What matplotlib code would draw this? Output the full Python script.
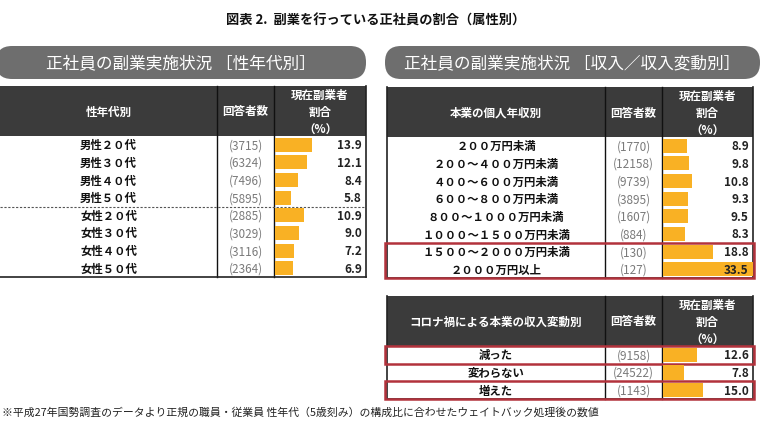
import matplotlib
matplotlib.use("Agg")
import matplotlib.pyplot as plt
from matplotlib.patches import Rectangle, FancyBboxPatch
from matplotlib import transforms

plt.rcParams['font.family'] = ['Noto Sans CJK JP', 'DejaVu Sans']

# ---------------- data ----------------
title = "図表 2.  副業を行っている正社員の割合（属性別）"
banner_left = "正社員の副業実施状況 ［性年代別］"
banner_right = "正社員の副業実施状況 ［収入／収入変動別］"

hdr_count = "回答者数"
hdr_rate = "現在副業者\n割合\n（%）"

age_header = "性年代別"
age_labels = ["男性２０代", "男性３０代", "男性４０代", "男性５０代",
              "女性２０代", "女性３０代", "女性４０代", "女性５０代"]
age_counts = [3715, 6324, 7496, 5895, 2885, 3029, 3116, 2364]
age_rates = [13.9, 12.1, 8.4, 5.8, 10.9, 9.0, 7.2, 6.9]

inc_header = "本業の個人年収別"
inc_labels = ["２００万円未満", "２００～４００万円未満", "４００～６００万円未満",
              "６００～８００万円未満", "８００～１０００万円未満",
              "１０００～１５００万円未満", "１５００～２０００万円未満",
              "２０００万円以上"]
inc_counts = [1770, 12158, 9739, 3895, 1607, 884, 130, 127]
inc_rates = [8.9, 9.8, 10.8, 9.3, 9.5, 8.3, 18.8, 33.5]
inc_highlight = [6, 7]

chg_header = "コロナ禍による本業の収入変動別"
chg_labels = ["減った", "変わらない", "増えた"]
chg_counts = [9158, 24522, 1143]
chg_rates = [12.6, 7.8, 15.0]
chg_highlight = [0, 2]

footnote = "※平成27年国勢調査のデータより正規の職員・従業員 性年代（5歳刻み）の構成比に合わせたウェイトバック処理後の数値"

# ---------------- layout ----------------
W, H = 763, 427
fig = plt.figure(figsize=(W / 100, H / 100), dpi=100)
bg = fig.add_axes([0, 0, 1, 1])
bg.set_xlim(0, W)
bg.set_ylim(H, 0)
bg.axis("off")

HDR_C = "#3b3b3b"
BAN_C = "#6e6e6e"
BAR_C = "#f9b124"
RED_C = "#b2323c"
PX_PER_PCT = 2.68

bg.text(376, 21, title, ha="center", va="center", fontsize=9.5,
        fontweight="bold", color="#111111")


def banner(x0, x1, y0, y1, text):
    p = FancyBboxPatch((x0, y0), x1 - x0, y1 - y0,
                       boxstyle="round,pad=0,rounding_size=16",
                       fc=BAN_C, ec="none", zorder=1)
    bg.add_patch(p)
    bg.text((x0 + x1) / 2, (y0 + y1) / 2 + 0.5, text, ha="center",
            va="center", fontsize=12, color="white", zorder=2)


def table(x0, xc1, xc2, x1, hy0, hy1, by1, header, labels, counts, rates,
          highlight=(), dashed_after=None, left_border=True):
    n = len(labels)
    # header
    bg.add_patch(Rectangle((x0, hy0), x1 - x0, hy1 - hy0, fc=HDR_C,
                           ec="none", zorder=1))
    for xc in (xc1, xc2):
        bg.plot([xc, xc], [hy0, by1], color="#111111", lw=1.0, zorder=3)
    hmid = (hy0 + hy1) / 2
    bg.text((x0 + xc1) / 2, hmid, header, ha="center",
            va="center", fontsize=8.3, fontweight="bold", color="white",
            zorder=4)
    bg.text((xc1 + xc2) / 2, hmid, hdr_count, ha="center",
            va="center", fontsize=8.3, fontweight="bold", color="white",
            zorder=4)
    bg.text((xc2 + x1) / 2, hmid + 0.5, hdr_rate, ha="center",
            va="center", fontsize=8.3, fontweight="bold", color="white",
            linespacing=1.45, zorder=4)
    # body borders
    bg.plot([x0, x1], [by1, by1], color="#222222", lw=1.2, zorder=3)
    bg.plot([x1, x1], [hy0, by1], color="#222222", lw=1.2, zorder=3)
    if left_border:
        bg.plot([x0, x0], [hy0, by1], color="#222222", lw=1.2, zorder=3)
    rh = (by1 - hy1) / n
    for i, (lab, cnt) in enumerate(zip(labels, counts)):
        yc = hy1 + rh * (i + 0.5)
        bg.text((x0 + xc1) / 2, yc, lab, ha="center", va="center",
                fontsize=8.2, fontweight="bold", color="#111111", zorder=4)
        bg.text((xc1 + xc2) / 2, yc, f"({cnt})", ha="center", va="center",
                fontsize=8.5, color="#7a7a7a", zorder=4)
    if dashed_after is not None:
        yd = hy1 + rh * dashed_after
        bg.plot([x0, x1], [yd, yd], color="#555555", lw=0.8,
                ls=(0, (2, 1.5)), zorder=3)
    # bars through a dedicated axes
    bx0 = xc2 + 1
    ax = fig.add_axes([bx0 / W, 1 - by1 / H, (x1 - bx0) / W, (by1 - hy1) / H])
    ax.set_xlim(0, (x1 - bx0) / PX_PER_PCT)
    ax.set_ylim(n - 0.5, -0.5)
    ax.axis("off")
    ax.patch.set_alpha(0)
    ax.barh(range(n), rates, height=0.8, color=BAR_C, zorder=1)
    blend = transforms.blended_transform_factory(ax.transAxes, ax.transData)
    for i, v in enumerate(rates):
        ax.annotate(f"{v:.1f}", xy=(1, i), xycoords=blend, xytext=(-3, 0),
                    textcoords="offset points", ha="right", va="center",
                    fontsize=8.5, fontweight="bold", color="#222222",
                    zorder=3)
    # highlight boxes
    for i in highlight:
        j = i
        while j + 1 in highlight:
            j += 1
        if i - 1 in highlight:
            continue
        bg.add_patch(Rectangle((x0 - 2, hy1 + rh * i), x1 - x0 + 3,
                               rh * (j - i + 1), fill=False, ec=RED_C,
                               lw=1.8, zorder=6))


banner(-4, 366, 47, 80, banner_left)
banner(385, 760, 47, 80, banner_right)

table(0, 217, 274, 366, 87, 137, 278, age_header, age_labels, age_counts,
      age_rates, dashed_after=4, left_border=False)
table(387, 605, 662, 753, 88, 138, 279, inc_header, inc_labels, inc_counts,
      inc_rates, highlight=inc_highlight)
table(387, 605, 662, 753, 297, 347, 400, chg_header, chg_labels, chg_counts,
      chg_rates, highlight=chg_highlight)

bg.text(2, 412, footnote, ha="left", va="center", fontsize=7.8,
        color="#222222")

fig.savefig("out.png", dpi=100)
